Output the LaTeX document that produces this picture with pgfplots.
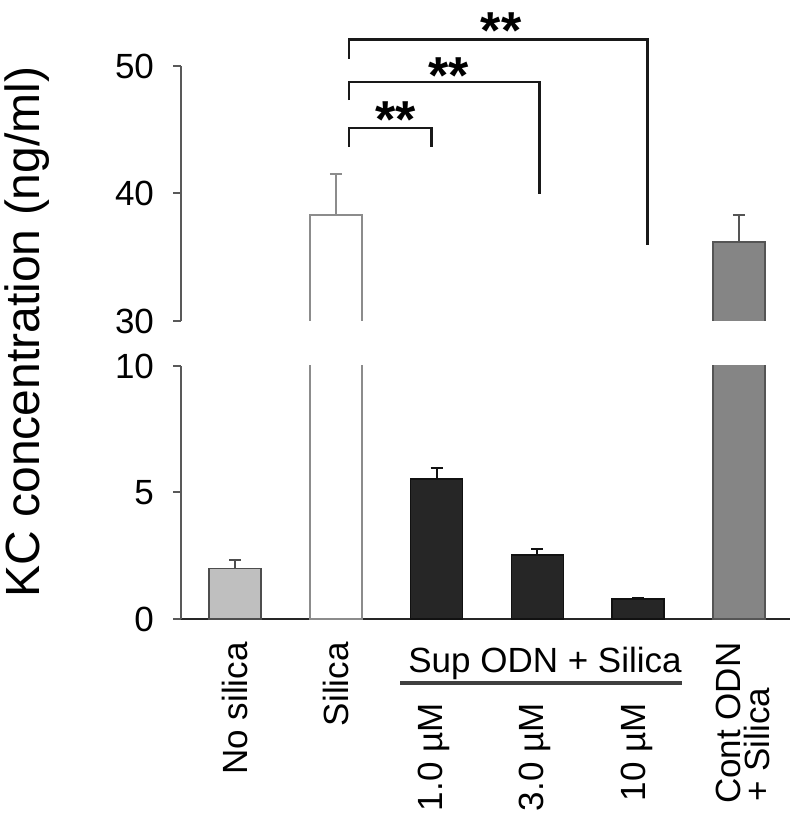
\documentclass[border=0pt]{standalone}
\usepackage{fontspec}
\setmainfont{Liberation Sans}
\usepackage{pgfplots}
\pgfplotsset{compat=1.18}
\definecolor{nos}{HTML}{BFBFBF}
\definecolor{nosd}{HTML}{4D4D4D}
\definecolor{sil}{HTML}{8C8C8C}
\definecolor{blk}{HTML}{262626}
\definecolor{blkd}{HTML}{111111}
\definecolor{cnt}{HTML}{858585}
\definecolor{cntd}{HTML}{555555}
\newcommand{\lab}{\fontsize{17.5}{21}\selectfont}
\pgfplotsset{
  common/.style={
    scale only axis, anchor=south west,
    width=304.5pt,
    xmin=-0.536, xmax=5.506,
    axis y line*=left,
    y axis line style={draw=black!65, line width=1pt},
    ytick style={draw=black!65, line width=1pt},
    tick align=outside, major tick length=4pt,
    xtick=\empty,
    /pgf/number format/assume math mode=true,
    yticklabel style={font=\lab, xshift=-6pt},
    clip mode=individual,
  },
  ebar/.style={error bars/.cd, y dir=plus, y explicit,
    error bar style={line width=1pt, draw=#1},
    error mark options={rotate=90, mark size=3pt, line width=1pt, draw=#1}},
}
\begin{document}
\begin{tikzpicture}
\path[use as bounding box] (0,0) rectangle (400pt,412.5pt);
% lower panel
\begin{axis}[common, at={(90.5pt,103pt)}, height=126.5pt,
  ymin=0, ymax=10, ytick={0,5,10},
  axis x line*=bottom,
  x axis line style={draw=black!85, line width=1.2pt},
  ybar, bar width=26pt,
]
\addplot[fill=nos, draw=nosd, line width=0.8pt, bar shift=0pt, ebar=nosd] coordinates {(0,2.0) +- (0,0.33)};
\addplot[fill=white, draw=sil, line width=1pt, bar shift=0pt] coordinates {(1,38.3)};
\addplot[fill=blk, draw=blkd, line width=0.8pt, bar shift=0pt, ebar=blkd] coordinates {(2,5.53) +- (0,0.44) (3,2.53) +- (0,0.22) (4,0.78) +- (0,0.05)};
\addplot[fill=cnt, draw=cntd, line width=0.8pt, bar shift=0pt] coordinates {(5,36.2)};
% category labels
\node[rotate=90, anchor=east, inner sep=0pt, font=\lab] at (axis cs:0,-0.91) {No silica};
\node[rotate=90, anchor=east, inner sep=0pt, font=\lab] at (axis cs:1,-0.91) {Silica};
\node[rotate=90, anchor=east, inner sep=0pt, font=\lab] at (axis cs:1.97,-3.32) {1.0 µM};
\node[rotate=90, anchor=east, inner sep=0pt, font=\lab] at (axis cs:2.98,-3.32) {3.0 µM};
\node[rotate=90, anchor=east, inner sep=0pt, font=\lab] at (axis cs:3.99,-3.32) {10 µM};
\node[rotate=90, anchor=east, inner sep=0pt, font=\lab] at (axis cs:4.90,-0.91) {Cont ODN};
\node[rotate=90, anchor=west, inner sep=0pt, font=\lab] at (axis cs:5.18,-7.23) {+ Silica};
\node[anchor=base, inner sep=0pt, font=\lab] at (axis cs:3.075,-2.134) {Sup ODN + Silica};
\draw[line width=2pt, black!75] (axis cs:1.637,-2.53) -- (axis cs:4.435,-2.53);
\end{axis}
% upper panel (broken part of the two tall bars; open at the bottom)
\begin{axis}[common, at={(90.5pt,252pt)}, height=127.5pt,
  ymin=30, ymax=50, ytick={30,40,50},
  axis x line=none,
]
\addplot[fill=white, draw=sil, line width=1pt] coordinates {(0.742,25) (0.742,38.3) (1.258,38.3) (1.258,25)};
\addplot[fill=cnt, draw=cntd, line width=0.8pt] coordinates {(4.742,25) (4.742,36.2) (5.258,36.2) (5.258,25)};
\addplot[draw=none, mark=none, ebar=sil] coordinates {(1,38.3) +- (0,3.2)};
\addplot[draw=none, mark=none, ebar=cntd] coordinates {(5,36.2) +- (0,2.1)};
% significance brackets
\draw[line width=1.4pt, black!90] (axis cs:1.13,43.65) -- (axis cs:1.13,45.14) -- (axis cs:1.95,45.14) -- (axis cs:1.95,43.65);
\draw[line width=1.4pt, black!90] (axis cs:1.13,47.33) -- (axis cs:1.13,48.75) -- (axis cs:3.02,48.75) -- (axis cs:3.02,39.96);
\draw[line width=1.4pt, black!90] (axis cs:1.13,50.55) -- (axis cs:1.13,52.1) -- (axis cs:4.09,52.1) -- (axis cs:4.09,35.96);
\node[anchor=base, inner sep=0pt, font=\fontsize{26}{30}\selectfont\bfseries] at (axis cs:1.59,44.38) {**};
\node[anchor=base, inner sep=0pt, font=\fontsize{26}{30}\selectfont\bfseries] at (axis cs:2.12,47.84) {**};
\node[anchor=base, inner sep=0pt, font=\fontsize{26}{30}\selectfont\bfseries] at (axis cs:2.64,51.36) {**};
\end{axis}
\node[rotate=90, font=\fontsize{24}{28}\selectfont] at (13.5pt,246.5pt) {KC concentration (ng/ml)};
\end{tikzpicture}
\end{document}
